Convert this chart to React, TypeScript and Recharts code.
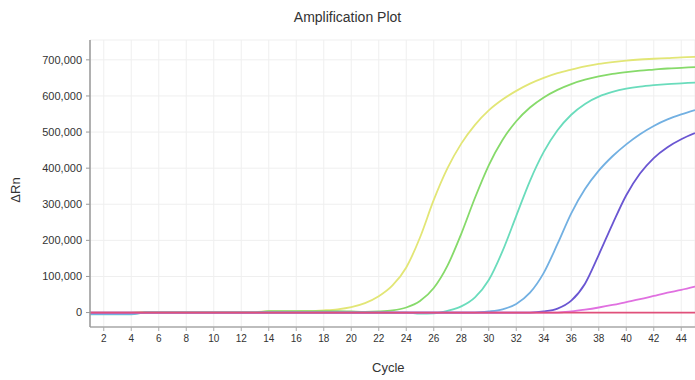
import { LineChart, Line, XAxis, YAxis, CartesianGrid } from 'recharts';

const cycles = [
  1, 2, 3, 4, 5, 6, 7, 8, 9, 10, 11, 12, 13, 14, 15, 16, 17, 18, 19, 20, 21, 22, 23,
  24, 25, 26, 27, 28, 29, 30, 31, 32, 33, 34, 35, 36, 37, 38, 39, 40, 41, 42, 43, 44, 45,
];
const xTicks = [2, 4, 6, 8, 10, 12, 14, 16, 18, 20, 22, 24, 26, 28, 30, 32, 34, 36, 38, 40, 42, 44];
const yTicks = [0, 100000, 200000, 300000, 400000, 500000, 600000, 700000];

// delta Rn per cycle, one array per well
const yellow = [
  0, 0, 0, 0, 2000, 2000, 2000, 2000, 2000, 2000, 2000, 2000, 2000, 3000, 3000, 3500, 4000, 6000,
  9000, 15000, 26000, 45000, 75000, 125000, 208000, 312000, 400000, 468000, 520000, 560000, 590000,
  614000, 634000, 650000, 663000, 673000, 682000, 689000, 694000, 698000, 701000, 703000, 705000,
  707000, 708000,
];
const green = [
  -2000, -2000, -2000, -2000, 0, 0, 0, 0, 0, 0, 0, 0, 0, 4000, 4000, 4000, 4000, 4000, 4000, 3000,
  2000, 3000, 6000, 14000, 32000, 68000, 130000, 218000, 318000, 408000, 478000, 530000, 568000,
  596000, 617000, 633000, 645000, 654000, 661000, 666000, 670000, 673000, 676000, 678000, 680000,
];
const cyan = [
  -5000, -5000, -5000, -5000, 0, 0, 0, 0, 0, 0, 0, 0, 0, 0, 0, 0, 0, 0, 0, 0, 0, 0, 0, 0, -3000,
  -2000, 5000, 17000, 42000, 90000, 170000, 268000, 365000, 445000, 505000, 548000, 578000, 598000,
  611000, 620000, 626000, 630000, 633000, 635000, 637000,
];
const blue = [
  -4000, -4000, -4000, -4000, 0, 0, 0, 0, 0, 0, 0, 0, 0, 0, 0, 0, 0, 0, 0, 0, 0, 0, 0, 0, 0, 0, 0,
  0, 0, 3000, 9000, 24000, 55000, 110000, 190000, 275000, 342000, 393000, 433000, 466000, 494000,
  517000, 535000, 549000, 561000,
];
const purple = [
  0, 0, 0, 0, 0, 0, 0, 0, 0, 0, 0, 0, 0, 0, 0, 0, 0, 0, 0, 0, 0, 0, 0, 0, 0, 0, 0, 0, 0, 0, 0, 0, 0,
  3000, 11000, 33000, 80000, 160000, 245000, 325000, 385000, 428000, 458000, 480000, 497000,
];
const magenta = [
  0, 0, 0, 0, 0, 0, 0, 0, 0, 0, 0, 0, 0, 0, 0, 0, 0, 0, 0, 0, 0, 0, 0, 0, 0, 0, 0, 0, 0, 0, 0, 0, 0,
  0, 0, 3000, 8000, 14000, 21000, 29000, 37000, 46000, 55000, 63000, 72000,
];
const red = [
  0, 0, 0, 0, 0, 0, 0, 0, 0, 0, 0, 0, 0, 0, 0, 0, 0, 0, 0, 0, 0, 0, 0, 0, 0, 0, 0, 0, 0, 0, 0, 0, 0,
  0, 0, 0, 0, 0, 0, 0, 0, 0, 0, 0, 0,
];

const data = cycles.map((cycle, i) => ({
  cycle,
  yellow: yellow[i],
  green: green[i],
  cyan: cyan[i],
  blue: blue[i],
  purple: purple[i],
  magenta: magenta[i],
  red: red[i],
}));

const series = [
  { key: 'yellow', color: '#e2e676' },
  { key: 'green', color: '#86da6a' },
  { key: 'cyan', color: '#6adcbc' },
  { key: 'blue', color: '#72b0e2' },
  { key: 'purple', color: '#6a56d2' },
  { key: 'magenta', color: '#e070e0' },
  { key: 'red', color: '#e0507a' },
];

const font = '"Liberation Sans", Arial, sans-serif';

export default function App() {
  return (
    <div style={{ position: 'absolute', left: 0, top: 0, width: 695, height: 380, background: '#fff', fontFamily: font }}>
      <div style={{ position: 'absolute', top: 9, left: 0, width: 695, textAlign: 'center', fontSize: 14, color: '#333' }}>
        Amplification Plot
      </div>
      <div
        style={{
          position: 'absolute',
          left: 15,
          top: 190,
          transform: 'translate(-50%, -50%) rotate(-90deg)',
          fontSize: 13,
          color: '#333',
        }}
      >
        ΔRn
      </div>
      <div style={{ position: 'absolute', left: 372, top: 360, fontSize: 13, color: '#333' }}>Cycle</div>
      <LineChart width={695} height={380} data={data} margin={{ top: 40, right: 0, left: 0, bottom: 0 }}>
        <CartesianGrid stroke="#efefef" />
        <XAxis
          xAxisId="top"
          orientation="top"
          dataKey="cycle"
          type="number"
          domain={[1, 45]}
          height={0}
          tick={false}
          tickLine={false}
          axisLine={{ stroke: '#aaa', strokeWidth: 1.5 }}
        />
        <XAxis
          dataKey="cycle"
          type="number"
          domain={[1, 45]}
          ticks={xTicks}
          height={53}
          tickSize={4}
          tickMargin={4}
          tick={{ fontSize: 10, fill: '#333', fontFamily: font }}
          axisLine={{ stroke: '#aaa', strokeWidth: 1.5 }}
          tickLine={{ stroke: '#aaa' }}
        />
        <YAxis
          type="number"
          domain={[-40000, 755000]}
          ticks={yTicks}
          width={90}
          tickSize={4}
          tickMargin={4}
          tickFormatter={(v) => v.toLocaleString('en-US')}
          tick={{ fontSize: 11, fill: '#333', fontFamily: font }}
          axisLine={{ stroke: '#999', strokeWidth: 1.5 }}
          tickLine={{ stroke: '#999' }}
        />
        {series.map((s) => (
          <Line
            key={s.key}
            dataKey={s.key}
            type="monotone"
            stroke={s.color}
            strokeWidth={1.8}
            dot={false}
            isAnimationActive={false}
          />
        ))}
      </LineChart>
    </div>
  );
}
